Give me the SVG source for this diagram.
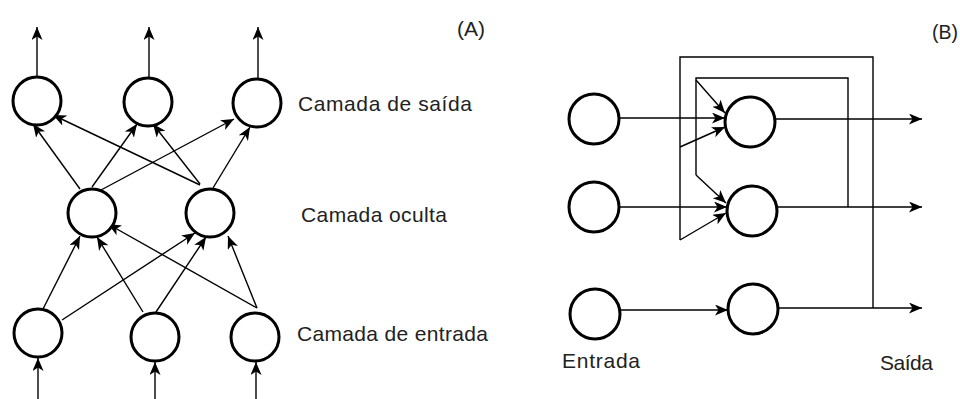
<svg xmlns="http://www.w3.org/2000/svg" width="960" height="399" viewBox="0 0 960 399">
<defs>
<style>
.n{fill:#fff;stroke:#000;stroke-width:3}
.e{fill:none;stroke:#000;stroke-width:1.4}
.a{marker-end:url(#ar)}
.t{font-family:"Liberation Sans",Arial,sans-serif;font-size:21px;fill:#222}
</style>
<marker id="ar" markerUnits="userSpaceOnUse" markerWidth="16" markerHeight="12" refX="13" refY="5.5" orient="auto">
<path d="M0,0 L13,5.5 L0,11 L3.5,5.5 z" fill="#000"/>
</marker>
</defs>
<rect width="960" height="399" fill="#fff"/>
<g id="connectors">
<!-- Panel A -->
<line class="e a" x1="37" y1="76" x2="37" y2="27"/>
<line class="e a" x1="149" y1="77" x2="149" y2="27"/>
<line class="e a" x1="258" y1="78" x2="258" y2="27"/>
<line class="e a" x1="80" y1="189" x2="33" y2="124"/>
<line class="e a" x1="92" y1="187" x2="137" y2="124"/>
<line class="e a" x1="101" y1="190" x2="234" y2="119"/>
<line class="e a" x1="200" y1="185" x2="53" y2="115"/>
<line class="e a" x1="200" y1="184" x2="153" y2="124"/>
<line class="e a" x1="213" y1="188" x2="250" y2="127"/>
<line class="e a" x1="43" y1="309" x2="80" y2="236"/>
<line class="e a" x1="62" y1="320" x2="195" y2="233"/>
<line class="e a" x1="143" y1="312" x2="97" y2="237"/>
<line class="e a" x1="156" y1="312" x2="206" y2="237"/>
<line class="e a" x1="257" y1="308" x2="108" y2="224"/>
<line class="e a" x1="257" y1="308" x2="228" y2="236"/>
<line class="e a" x1="38" y1="399" x2="38" y2="358"/>
<line class="e a" x1="155" y1="399" x2="155" y2="362"/>
<line class="e a" x1="256" y1="399" x2="256" y2="362"/>
<!-- Panel B -->
<line class="e a" x1="620" y1="118" x2="725" y2="118"/>
<line class="e a" x1="620" y1="207" x2="727" y2="207"/>
<line class="e a" x1="621" y1="310" x2="728" y2="310"/>
<line class="e a" x1="775" y1="119" x2="922" y2="119"/>
<line class="e a" x1="777" y1="207" x2="922" y2="207"/>
<line class="e a" x1="778" y1="308" x2="922" y2="308"/>
<polyline class="e" points="873,308 873,57 680,57 680,240"/>
<line class="e a" x1="680" y1="240" x2="726" y2="213"/>
<line class="e a" x1="680" y1="147" x2="725" y2="127"/>
<polyline class="e" points="848,207 848,78 696,78 696,175"/>
<line class="e a" x1="696" y1="175" x2="726" y2="203"/>
<line class="e a" x1="696" y1="80" x2="725" y2="113"/>
</g>
<g id="A-out1"><circle class="n" cx="37" cy="101" r="24"/></g>
<g id="A-out2"><circle class="n" cx="148" cy="102" r="24"/></g>
<g id="A-out3"><circle class="n" cx="257" cy="103" r="24"/></g>
<g id="A-hid1"><circle class="n" cx="92" cy="213" r="24"/></g>
<g id="A-hid2"><circle class="n" cx="210" cy="213" r="24"/></g>
<g id="A-in1"><circle class="n" cx="38" cy="333" r="24"/></g>
<g id="A-in2"><circle class="n" cx="155" cy="337" r="24"/></g>
<g id="A-in3"><circle class="n" cx="255" cy="337" r="24"/></g>
<g id="B-in1"><circle class="n" cx="594" cy="119" r="25"/></g>
<g id="B-in2"><circle class="n" cx="594" cy="207" r="25"/></g>
<g id="B-in3"><circle class="n" cx="595" cy="314" r="25"/></g>
<g id="B-h1"><circle class="n" cx="750" cy="122" r="25"/></g>
<g id="B-h2"><circle class="n" cx="752" cy="211" r="25"/></g>
<g id="B-h3"><circle class="n" cx="753" cy="309" r="25"/></g>
<g id="labels">
<text class="t" x="457" y="36" textLength="28" lengthAdjust="spacingAndGlyphs">(A)</text>
<text class="t" x="932" y="39" textLength="26" lengthAdjust="spacingAndGlyphs">(B)</text>
<text class="t" x="298" y="111" textLength="174" lengthAdjust="spacing">Camada de saída</text>
<text class="t" x="301" y="222" textLength="146" lengthAdjust="spacing">Camada oculta</text>
<text class="t" x="297" y="341" textLength="191" lengthAdjust="spacing">Camada de entrada</text>
<text class="t" x="562" y="368" textLength="78" lengthAdjust="spacing">Entrada</text>
<text class="t" x="880" y="370" textLength="53" lengthAdjust="spacing">Saída</text>
</g>
</svg>
